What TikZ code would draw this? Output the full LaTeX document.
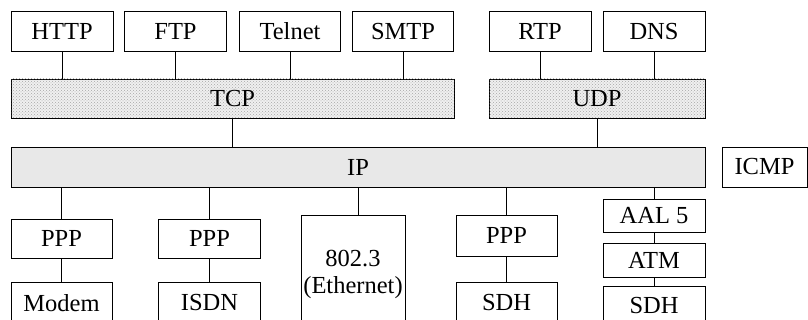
\documentclass[tikz,border=0pt]{standalone}
\usepackage{fontspec}
\setmainfont{Liberation Serif}
\usetikzlibrary{patterns}
\definecolor{ipgray}{HTML}{E8E8E8}
\definecolor{dotgray}{HTML}{F0F0F0}
\tikzset{
  box/.style={draw=black, line width=0.9pt, fill=white, inner sep=0pt, font=\fontsize{24.5}{27}\selectfont, align=center},
  dotbox/.style={box, fill=dotgray, postaction={pattern=crosshatch dots, pattern color=black!35}},
  ipbox/.style={box, fill=ipgray},
  link/.style={line width=0.9pt},
}
\begin{document}
\begin{tikzpicture}[x=1pt,y=-1pt]
\useasboundingbox (0,0) rectangle (808,320);
\clip (0,0) rectangle (808,320);
% top row
\node[box, minimum width=102pt, minimum height=39.5pt] (http) at (62,31.25) {HTTP};
\node[box, minimum width=102pt, minimum height=39.5pt] (ftp) at (175.5,31.25) {FTP};
\node[box, minimum width=101pt, minimum height=39.5pt] (telnet) at (290,31.25) {Telnet};
\node[box, minimum width=101pt, minimum height=39.5pt] (smtp) at (403,31.25) {SMTP};
\node[box, minimum width=102pt, minimum height=39.5pt] (rtp) at (540,31.25) {RTP};
\node[box, minimum width=102pt, minimum height=39.5pt] (dns) at (654,31.25) {DNS};
% transport
\node[dotbox, minimum width=443pt, minimum height=39pt] (tcp) at (232.5,98.5) {TCP};
\node[dotbox, minimum width=216pt, minimum height=39pt] (udp) at (597,98.5) {UDP};
% network
\node[ipbox, minimum width=694pt, minimum height=40pt] (ip) at (358,167) {IP};
\node[box, minimum width=85pt, minimum height=40pt] (icmp) at (764.5,167) {ICMP};
% link layer
\node[box, minimum width=101pt, minimum height=39pt] (ppp1) at (61.5,238.5) {PPP};
\node[box, minimum width=101pt, minimum height=42pt] (modem) at (61.5,303) {Modem};
\node[box, minimum width=102pt, minimum height=39pt] (ppp2) at (209.5,238.5) {PPP};
\node[box, minimum width=102pt, minimum height=42pt] (isdn) at (209.5,303) {ISDN};
\node[box, minimum width=104pt, minimum height=118pt] (eth) at (353,274) {802.3\\(Ethernet)};
\node[box, minimum width=101pt, minimum height=41pt] (ppp3) at (506.5,235.5) {PPP};
\node[box, minimum width=101pt, minimum height=42pt] (sdh1) at (506.5,303) {SDH};
\node[box, minimum width=102pt, minimum height=33pt] (aal) at (654,215.5) {AAL 5};
\node[box, minimum width=102pt, minimum height=34pt] (atm) at (654,260) {ATM};
\node[box, minimum width=102pt, minimum height=40pt] (sdh2) at (654,306) {SDH};
% connectors
\foreach \n in {http,ftp,telnet,smtp}
  \draw[link] (\n.south) -- (\n.south |- tcp.north);
\foreach \n in {rtp,dns}
  \draw[link] (\n.south) -- (\n.south |- udp.north);
\draw[link] (tcp.south) -- (tcp.south |- ip.north);
\draw[link] (udp.south) -- (udp.south |- ip.north);
\draw[link] (ppp1.north) -- (ppp1.north |- ip.south);
\draw[link] (ppp2.north) -- (ppp2.north |- ip.south);
\draw[link] (ip.south) -- (ip.south |- eth.north);
\draw[link] (ppp3.north) -- (ppp3.north |- ip.south);
\draw[link] (aal.north) -- (aal.north |- ip.south);
\draw[link] (ppp1.south) -- (modem.north);
\draw[link] (ppp2.south) -- (isdn.north);
\draw[link] (ppp3.south) -- (sdh1.north);
\draw[link] (aal.south) -- (atm.north);
\draw[link] (atm.south) -- (sdh2.north);
\end{tikzpicture}
\end{document}
